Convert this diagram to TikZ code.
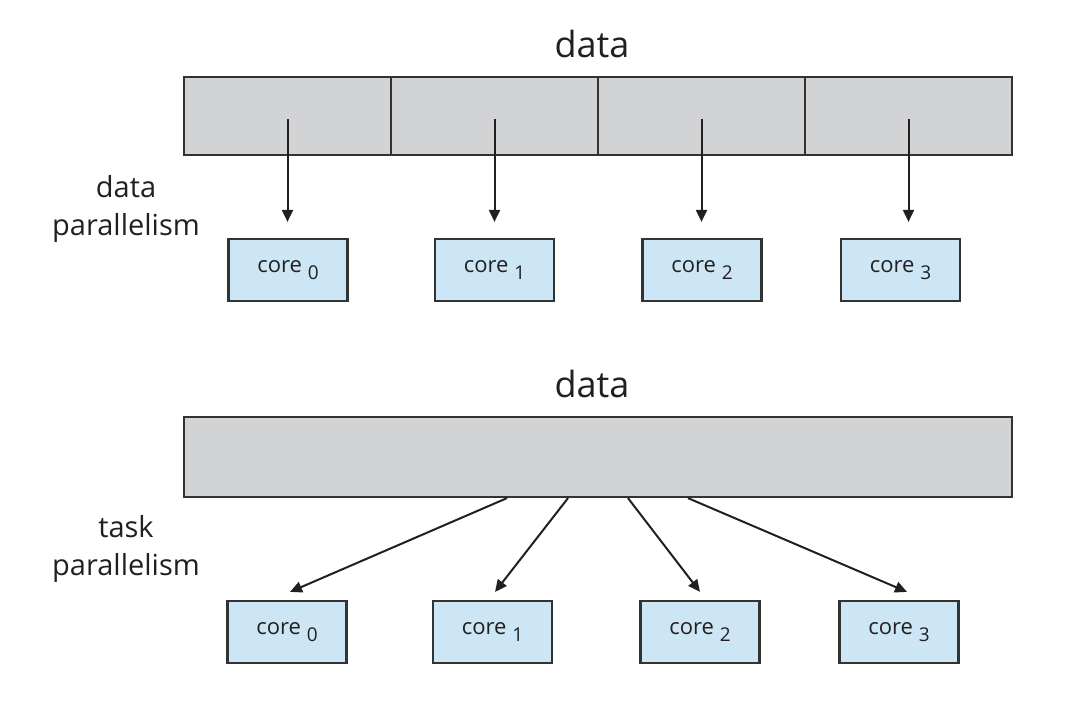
\documentclass[tikz,border=0pt]{standalone}
\usepackage{fontspec}
\setmainfont{Open Sans}
\usetikzlibrary{arrows.meta,calc}
\definecolor{bargray}{HTML}{D1D3D4}
\definecolor{coreblue}{HTML}{CDE6F6}
\definecolor{edgegray}{HTML}{333333}
\definecolor{txt}{HTML}{231F20}
\begin{document}
\begin{tikzpicture}[x=1pt,y=-1pt,
  cell/.style={draw=edgegray, line width=2.2pt, fill=bargray, inner sep=0pt,
               minimum width=207pt, minimum height=78pt},
  wide/.style={draw=edgegray, line width=2.2pt, fill=bargray, inner sep=0pt,
               minimum width=828pt, minimum height=80pt},
  corebox/.style={draw=edgegray, line width=2.2pt, fill=coreblue, inner sep=0pt,
                  minimum width=119pt, minimum height=62pt, text=txt,
                  font=\fontsize{22}{26}\selectfont},
  title/.style={anchor=base, inner sep=0pt, text=txt, font=\fontsize{36}{40}\selectfont},
  side/.style={anchor=base, inner sep=0pt, text=txt, align=center,
               font=\fontsize{29}{38}\selectfont},
  flow/.style={draw=txt, line width=2pt, -{Triangle[length=12pt,width=11pt]}}]
\useasboundingbox (0,0) rectangle (1090,710);
\newcommand{\corelabel}[1]{core\ \raisebox{-7pt}{\fontsize{19}{22}\selectfont #1}}

% ---------- data parallelism ----------
\node[title] (title1) at (592,57) {data};
\node[cell] (d0) at (287.5,116) {};
\node[cell] (d1) at (494.5,116) {};
\node[cell] (d2) at (701.5,116) {};
\node[cell] (d3) at (908.5,116) {};
\node[side] (lab1) at (126,235) {data\\parallelism};

\node[corebox] (t0) at (288,270) {\corelabel{0}};
\node[corebox] (t1) at (494.5,270) {\corelabel{1}};
\node[corebox] (t2) at (702,270) {\corelabel{2}};
\node[corebox] (t3) at (900.5,270) {\corelabel{3}};

\draw[flow] ($(d0.center)+(0,3)$) -- ($(t0.north -| d0.center)+(0,-16)$);
\draw[flow] ($(d1.center)+(0,3)$) -- ($(t1.north -| d1.center)+(0,-16)$);
\draw[flow] ($(d2.center)+(0,3)$) -- ($(t2.north -| d2.center)+(0,-16)$);
\draw[flow] ($(d3.center)+(0,3)$) -- ($(t3.north -| d3.center)+(0,-16)$);

% ---------- task parallelism ----------
\node[title] (title2) at (592,397) {data};
\node[wide] (B) at (598,457) {};
\node[side] (lab2) at (126,575) {task\\parallelism};

\node[corebox] (b0) at (287,632) {\corelabel{0}};
\node[corebox] (b1) at (492.5,632) {\corelabel{1}};
\node[corebox] (b2) at (700,632) {\corelabel{2}};
\node[corebox] (b3) at (899,632) {\corelabel{3}};

\draw[flow] ($(B.south)+(-91,0)$) -- ($(b0.north)+(3,-8)$);
\draw[flow] ($(B.south)+(-30,0)$) -- ($(b1.north)+(2.5,-8)$);
\draw[flow] ($(B.south)+(30,0)$) -- ($(b2.north)+(0,-8)$);
\draw[flow] ($(B.south)+(90,0)$) -- ($(b3.north)+(8,-8)$);
\end{tikzpicture}
\end{document}
